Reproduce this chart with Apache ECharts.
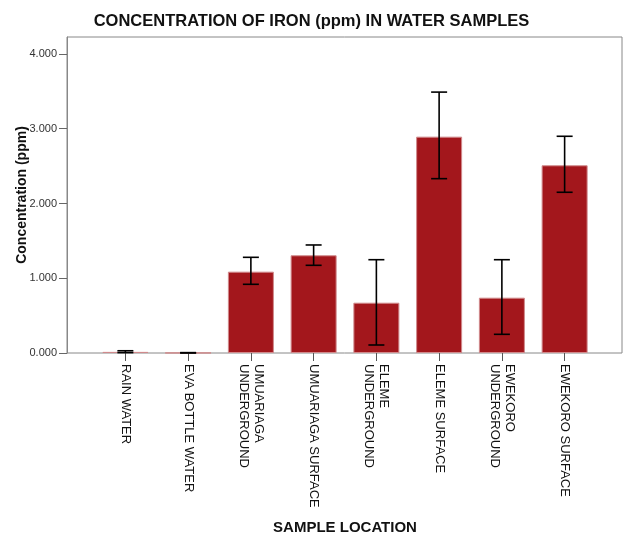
<!DOCTYPE html>
<html>
<head>
<meta charset="utf-8">
<script src="https://cdn.jsdelivr.net/npm/echarts@6/dist/echarts.min.js"></script>
<style>
  html, body { margin: 0; padding: 0; background: #fff; }
  #chart { width: 623px; height: 536px; }
</style>
</head>
<body>
<div id="chart"></div>
<script>
// sample locations and mean iron concentration (ppm) with error bar ends
var locations = ['RAIN WATER', 'EVA BOTTLE WATER', 'UMUARIAGA\nUNDERGROUND', 'UMUARIAGA SURFACE',
  'ELEME\nUNDERGROUND', 'ELEME SURFACE', 'EWEKORO\nUNDERGROUND', 'EWEKORO SURFACE'];
var meanValues = [0.015, 0.002, 1.088, 1.307, 0.673, 2.894, 0.740, 2.511];
var errLow = [0.005, 0.000, 0.919, 1.173, 0.107, 2.332, 0.250, 2.150];
var errHigh = [0.030, 0.005, 1.280, 1.445, 1.248, 3.490, 1.248, 2.899];
var yTicks = [0, 1, 2, 3, 4];

var yMax = 4.227;
var font = 'Liberation Sans, Arial, sans-serif';

var errData = locations.map(function (d, i) { return [i, errLow[i], errHigh[i]]; });

var myChart = echarts.init(document.getElementById('chart'));
var option = {
  animation: false,
  title: {
    text: 'CONCENTRATION OF IRON (ppm) IN WATER SAMPLES',
    left: 'center',
    top: 8,
    textStyle: { fontFamily: font, fontSize: 16.5, fontWeight: 'bold', color: '#111' }
  },
  grid: [
    // outer frame with y axis
    { left: 67, right: 1, top: 37, bottom: 183, show: true, borderColor: '#888', borderWidth: 1, outerBoundsMode: 'none' },
    // bars sit in an inset band
    { left: 94, right: 27, top: 37, bottom: 183, outerBoundsMode: 'none' }
  ],
  xAxis: [
    { gridIndex: 0, type: 'value', min: 0, max: 1, show: false },
    {
      gridIndex: 1,
      type: 'category',
      data: locations,
      name: 'SAMPLE LOCATION',
      nameLocation: 'middle',
      nameGap: 167,
      nameMoveOverlap: false,
      nameTextStyle: { fontFamily: font, fontSize: 15, fontWeight: 'bold', color: '#111' },
      axisLine: { show: false },
      axisTick: { show: true, alignWithLabel: true, length: 8, lineStyle: { color: '#555' } },
      axisLabel: {
        rotate: -90, interval: 0, margin: 11,
        fontFamily: font, fontSize: 13, color: '#111', lineHeight: 15
      }
    }
  ],
  yAxis: [
    {
      gridIndex: 0,
      type: 'value',
      min: 0, max: yMax, interval: 1,
      name: 'Concentration (ppm)',
      nameLocation: 'middle',
      nameGap: 38,
      nameMoveOverlap: false,
      nameTextStyle: { fontFamily: font, fontSize: 14, fontWeight: 'bold', color: '#111' },
      axisLine: { show: true, lineStyle: { color: '#888' } },
      axisTick: { show: true, length: 8, customValues: yTicks, lineStyle: { color: '#666' } },
      splitLine: { show: false },
      axisLabel: {
        fontFamily: font, fontSize: 11, color: '#333', margin: 10,
        customValues: yTicks,
        formatter: function (v) { return v.toFixed(3); }
      }
    },
    { gridIndex: 1, type: 'value', min: 0, max: yMax, show: false }
  ],
  series: [
    {
      type: 'bar',
      xAxisIndex: 1, yAxisIndex: 1,
      data: meanValues,
      barWidth: 46,
      itemStyle: { color: '#A3171C', borderColor: '#d08a8c', borderWidth: 1 }
    },
    {
      type: 'custom',
      xAxisIndex: 1, yAxisIndex: 1,
      data: errData,
      z: 10,
      renderItem: function (params, api) {
        var lo = api.coord([api.value(0), api.value(1)]);
        var hi = api.coord([api.value(0), api.value(2)]);
        var half = 8;
        var st = { stroke: '#000', lineWidth: 1.6 };
        return {
          type: 'group',
          children: [
            { type: 'line', shape: { x1: hi[0], y1: hi[1], x2: lo[0], y2: lo[1] }, style: st },
            { type: 'line', shape: { x1: hi[0] - half, y1: hi[1], x2: hi[0] + half, y2: hi[1] }, style: st },
            { type: 'line', shape: { x1: lo[0] - half, y1: lo[1], x2: lo[0] + half, y2: lo[1] }, style: st }
          ]
        };
      }
    }
  ]
};
myChart.setOption(option);
</script>
</body>
</html>
